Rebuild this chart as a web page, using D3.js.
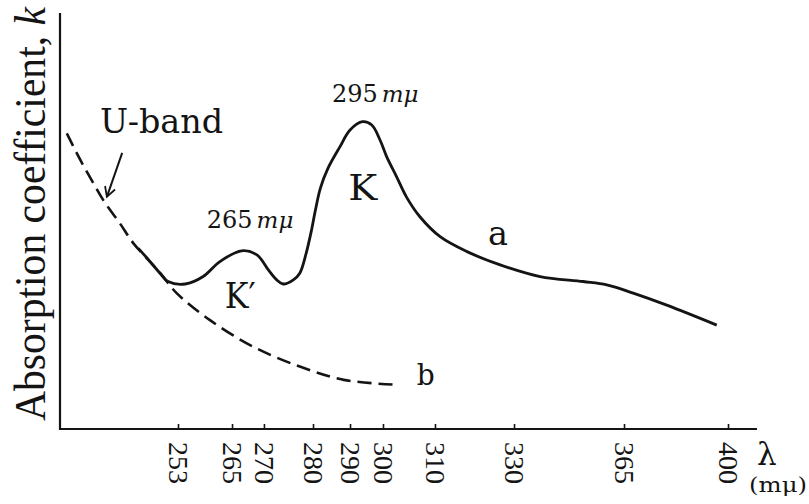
<!DOCTYPE html>
<html><head><meta charset="utf-8">
<script src="https://cdn.jsdelivr.net/npm/d3@7"></script>
<style>html,body{margin:0;padding:0;background:#fff}svg{display:block}</style>
</head><body>
<svg id="chart" width="809" height="504"></svg>
<script>
// ---- data ----
const tickValues = [253, 265, 270, 280, 290, 300, 310, 330, 365, 400];
const curveALambda = [244.2, 246.8, 249.0, 250.8, 254.6, 258.6, 262.3, 266.5, 268.9, 270.9, 272.6, 273.9, 276.0, 277.3, 278.6, 279.7, 280.6, 282.0, 284.0, 287.3, 290.0, 293.8, 296.6, 299.1, 300.7, 302.6, 304.5, 307.1, 311.3, 318.1, 326.5, 338.3, 352.0, 359.5, 368.1, 379.4, 396.2];
const curveAK =      [43.3, 40.1, 37.3, 35.3, 34.7, 36.5, 40.1, 42.7, 41.7, 38.1, 35.7, 34.7, 35.7, 37.3, 42.1, 47.7, 52.3, 57.8, 62.5, 67.8, 71.8, 73.8, 73.0, 69.4, 65.4, 60.6, 55.7, 50.9, 46.1, 42.5, 39.3, 36.5, 35.3, 34.5, 32.5, 29.6, 24.8];
const curveBLambda = [228.3, 231.3, 234.2, 236.4, 240.1, 243.1, 246.5, 249.3, 252.7, 260.1, 268.3, 277.3, 288.3, 302.9];
const curveBK =      [71.0, 64.6, 59.0, 54.9, 49.3, 44.5, 40.4, 37.0, 32.5, 26.0, 19.6, 14.8, 11.6, 10.4];
const peakLabels = ["295", "265"];
const curveNames = ["a", "b"];
const bandNames = ["K", "K\u2032", "U-band"];

// ---- layout ----
const W = 809, H = 504;
const axisX0 = 60, axisX1 = 757, axisY = 429, axisTop = 13;
// hand-drawn (roughly logarithmic) wavelength axis: tick positions as fractions of axis length
const tickFrac = [0.1693, 0.2468, 0.2926, 0.3630, 0.4161, 0.4634, 0.5380, 0.6514, 0.8092, 0.9584];
const svg = d3.select("#chart");
const x = d3.scaleLinear()
  .domain(tickValues)
  .range(tickFrac.map(f => axisX0 + f * (axisX1 - axisX0)));
const y = d3.scaleLinear().domain([0, 100]).range([428, axisTop]);

const ink = "#141414";
const serif = "'DejaVu Serif', 'Liberation Serif', serif";
const times = "'Liberation Serif', 'DejaVu Serif', serif";

// axes
svg.append("line").attr("x1", axisX0).attr("x2", axisX0).attr("y1", axisTop).attr("y2", axisY + 1)
  .attr("stroke", ink).attr("stroke-width", 2.2);
svg.append("line").attr("x1", axisX0).attr("x2", axisX1).attr("y1", axisY).attr("y2", axisY)
  .attr("stroke", ink).attr("stroke-width", 2.2);

const xAxis = d3.axisBottom(x).tickValues(tickValues).tickSize(-5).tickFormat(d3.format("d"));
const gx = svg.append("g").attr("transform", `translate(0,${axisY})`).call(xAxis);
gx.select(".domain").remove();
gx.selectAll(".tick line").attr("stroke", ink).attr("stroke-width", 1.6);
gx.selectAll(".tick text")
  .attr("fill", ink)
  .attr("font-family", times)
  .attr("font-size", 28)
  .attr("text-anchor", "start")
  .attr("x", 13).attr("y", 0).attr("dy", "0.35em")
  .attr("transform", "rotate(90)");

// axis titles
const yt = svg.append("text")
  .attr("transform", "translate(45,421) rotate(-90)")
  .attr("font-family", times).attr("font-size", 44).attr("fill", ink)
  .attr("textLength", 414).attr("lengthAdjust", "spacingAndGlyphs");
yt.append("tspan").text("Absorption coefficient, ");
yt.append("tspan").attr("font-style", "italic").text("k");

svg.append("text").attr("x", 757).attr("y", 465)
  .attr("font-family", serif).attr("font-size", 31).attr("fill", ink).text("\u03bb");
svg.append("text").attr("x", 749).attr("y", 492)
  .attr("font-family", serif).attr("font-size", 21).attr("fill", ink)
  .attr("textLength", 58).attr("lengthAdjust", "spacingAndGlyphs")
  .text("(m\u03bc)");

// curves
const line = d3.line().x(d => x(d[0])).y(d => y(d[1])).curve(d3.curveCatmullRom.alpha(0.5));
const dataA = curveALambda.map((l, i) => [l, curveAK[i]]);
const dataB = curveBLambda.map((l, i) => [l, curveBK[i]]);

svg.append("path").attr("d", line(dataB)).attr("fill", "none")
  .attr("stroke", ink).attr("stroke-width", 2.6).attr("stroke-dasharray", "14,7");
svg.append("path").attr("d", line(dataA)).attr("fill", "none")
  .attr("stroke", ink).attr("stroke-width", 2.8).attr("stroke-linejoin", "round");

// annotations (anchored in data units)
function peakLabel(txt, lam, k) {
  const t = svg.append("text").attr("x", x(lam)).attr("y", y(k))
    .attr("font-family", serif).attr("font-size", 24).attr("fill", ink);
  t.append("tspan").text(txt);
  t.append("tspan").attr("dx", 4).attr("font-style", "italic").attr("font-size", 23).text("m\u03bc");
}
peakLabel(peakLabels[0], 285.1, 78.6);
peakLabel(peakLabels[1], 259.4, 48.1);

function word(txt, lam, k, size, len) {
  const t = svg.append("text").attr("x", x(lam)).attr("y", y(k))
    .attr("font-family", serif).attr("font-size", size).attr("fill", ink).text(txt);
  if (len) t.attr("textLength", len).attr("lengthAdjust", "spacingAndGlyphs");
  return t;
}
word(bandNames[0], 289.5, 54.9, 36, 29);
word(bandNames[1], 263.4, 28.9, 36, 31);
word(bandNames[2], 235.7, 71.2, 33, 123);
word(curveNames[0], 323.4, 44.1, 33, 20);
word(curveNames[1], 306.5, 10.4, 30, 18);

// U-band arrow
const a0 = [x(240.6), y(66.3)], a1 = [x(237.2), y(55.7)];
svg.append("line").attr("x1", a0[0]).attr("y1", a0[1]).attr("x2", a1[0]).attr("y2", a1[1])
  .attr("stroke", ink).attr("stroke-width", 2);
const ang = Math.atan2(a1[1] - a0[1], a1[0] - a0[0]);
const hl = 11, spread = 0.5;
const p1 = [a1[0] - hl * Math.cos(ang - spread), a1[1] - hl * Math.sin(ang - spread)];
const p2 = [a1[0] - hl * Math.cos(ang + spread), a1[1] - hl * Math.sin(ang + spread)];
svg.append("path").attr("d", `M${p1}L${a1}L${p2}`).attr("fill", "none")
  .attr("stroke", ink).attr("stroke-width", 1.8);
</script>
</body></html>
